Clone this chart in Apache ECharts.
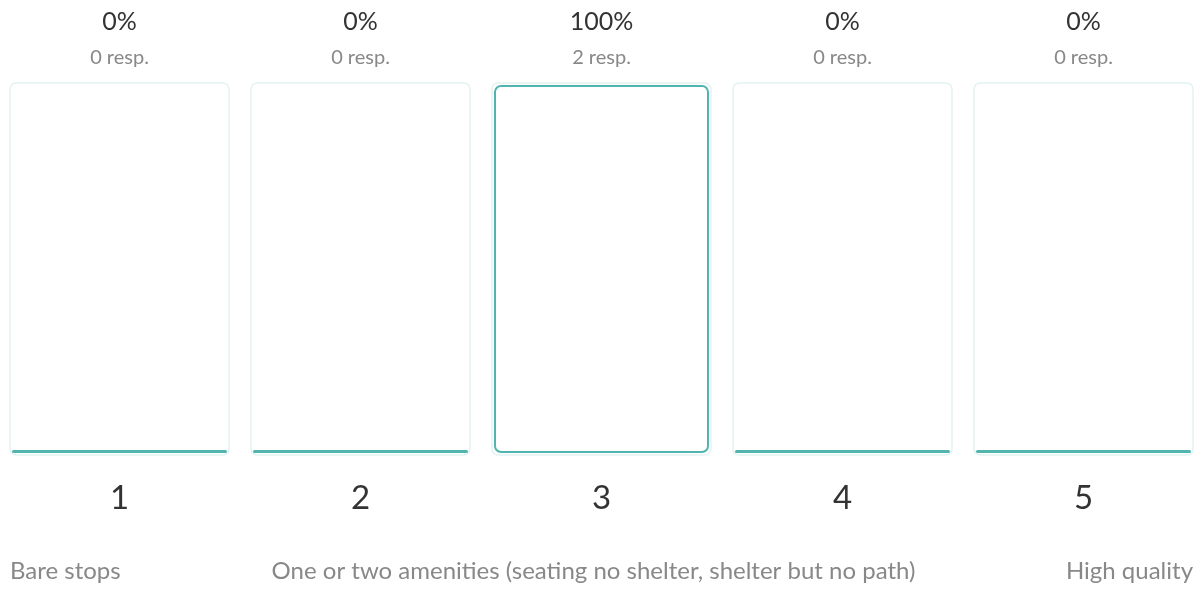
<!DOCTYPE html>
<html>
<head>
<meta charset="utf-8">
<script src="https://cdn.jsdelivr.net/npm/echarts@6/dist/echarts.min.js"></script>
<style>
html,body{margin:0;padding:0;background:#fff;}
#c{width:1201px;height:591px;}
</style>
</head>
<body>
<div id="c"></div>
<script>
const categories = ['1', '2', '3', '4', '5'];
const percents = [0, 0, 100, 0, 0];
const responses = [0, 0, 2, 0, 0];
const scaleLabels = ['Bare stops', 'One or two amenities (seating no shelter, shelter but no path)', 'High quality'];

const TEAL = '#52b4ae';
const LIGHT = '#e3f2f2';
const FONT = 'Lato';

const chart = echarts.init(document.getElementById('c'));
chart.setOption({
  animation: false,
  textStyle: { fontFamily: FONT },
  grid: { left: -1, width: 1205, top: 85, bottom: 138, outerBoundsMode: 'none', containLabel: false },
  xAxis: [
    {
      type: 'category', data: categories, position: 'bottom',
      axisLine: { show: false }, axisTick: { show: false },
      axisLabel: { fontSize: 33, color: '#333', margin: 29, fontFamily: FONT }
    },
    {
      type: 'category', data: categories, position: 'top',
      axisLine: { show: false }, axisTick: { show: false },
      axisLabel: {
        margin: 9,
        formatter: (v, i) => '{p|' + percents[i] + '%}\n{r|' + responses[i] + ' resp.}',
        rich: {
          p: { fontSize: 25, color: '#333', lineHeight: 34, fontFamily: FONT },
          r: { fontSize: 20, color: '#888', lineHeight: 37, fontFamily: FONT }
        }
      }
    }
  ],
  yAxis: { type: 'value', min: 0, max: 100, show: false },
  series: [
    {
      type: 'custom',
      silent: true,
      z: 1,
      data: categories.map((c, i) => [i, 100]),
      renderItem: (params, api) => {
        const top = api.coord([api.value(0), 100]);
        const bot = api.coord([api.value(0), 0]);
        const w = 219;
        return {
          type: 'rect',
          shape: { x: top[0] - w / 2, y: top[1] - 2, width: w, height: bot[1] - top[1] + 4, r: 6 },
          style: { fill: '#fff', stroke: LIGHT, lineWidth: 1.5 }
        };
      }
    },
    {
      type: 'bar',
      z: 3,
      barWidth: 215,
      barMinHeight: 3,
      data: percents.map(v => ({
        value: v,
        itemStyle: v === 0
          ? { color: TEAL, borderColor: TEAL, borderWidth: 1.5, borderRadius: 1.5 }
          : { color: '#fff', borderColor: TEAL, borderWidth: 2, borderRadius: 6 }
      }))
    }
  ],
  graphic: [
    { type: 'text', left: 10, top: 559, style: { text: scaleLabels[0], font: '24px ' + FONT, fill: '#888' } },
    { type: 'text', x: 593.5, y: 559, style: { text: scaleLabels[1], font: '24px ' + FONT, fill: '#888', textAlign: 'center' } },
    { type: 'text', right: 8, top: 559, style: { text: scaleLabels[2], font: '24px ' + FONT, fill: '#888' } }
  ]
});
</script>
</body>
</html>
